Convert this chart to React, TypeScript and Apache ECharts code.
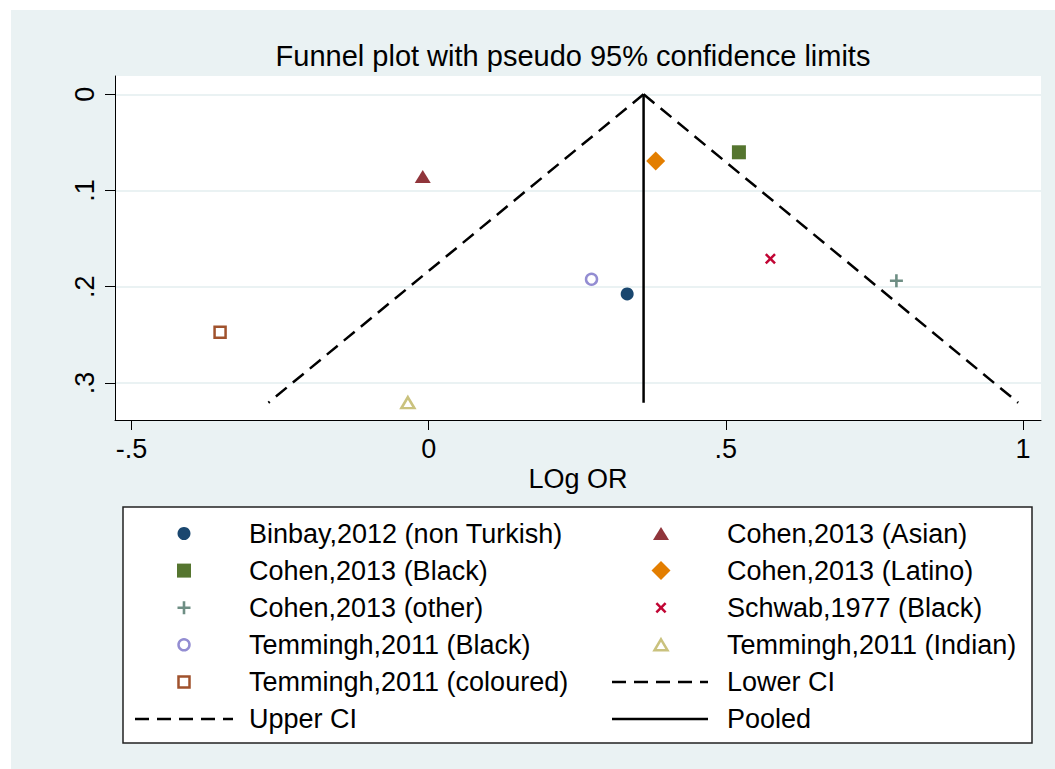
import React, { useEffect, useRef } from "react";
import * as echarts from "echarts";

// ---------- data ----------
const studies = [
  "Binbay,2012 (non Turkish)",
  "Cohen,2013 (Asian)",
  "Cohen,2013 (Black)",
  "Cohen,2013 (Latino)",
  "Cohen,2013 (other)",
  "Schwab,1977 (Black)",
  "Temmingh,2011 (Black)",
  "Temmingh,2011 (Indian)",
  "Temmingh,2011 (coloured)",
];
const logOR = [0.334, -0.01, 0.522, 0.382, 0.787, 0.575, 0.274, -0.035, -0.351];
const seLogOR = [0.2076, 0.0856, 0.0603, 0.0693, 0.1938, 0.171, 0.1923, 0.3206, 0.2474];

const lowerCI = [
  [0.3616, 0],
  [-0.2697, 0.3206],
];
const upperCI = [
  [0.3616, 0],
  [0.9919, 0.3206],
];
const pooledLine = [
  [0.3616, 0],
  [0.3616, 0.3206],
];
const lineNames = ["Lower CI", "Upper CI", "Pooled"];

const xTicks = [-0.5, 0, 0.5, 1];
const yTicks = [0, 0.1, 0.2, 0.3];

const chartTitle = "Funnel plot with pseudo 95% confidence limits";
const xTitle = "LOg OR";

// ---------- styles ----------
const FONT = "Liberation Sans, Arial, Helvetica, sans-serif";
const BG = "#eaf2f3";
const markerStyles = [
  { kind: "circle", color: "#1a476f", hollow: false },
  { kind: "triangle", color: "#90353b", hollow: false },
  { kind: "square", color: "#55752f", hollow: false },
  { kind: "diamond", color: "#e37e00", hollow: false },
  { kind: "plus", color: "#6e8e84", hollow: false },
  { kind: "cross", color: "#c10534", hollow: false },
  { kind: "circle", color: "#938dd2", hollow: true },
  { kind: "triangle", color: "#cac27e", hollow: true },
  { kind: "square", color: "#a0522d", hollow: true },
];

const PLUS_PATH = "path://M4,0 H6 V4 H10 V6 H6 V10 H4 V6 H0 V4 H4 Z";
const CROSS_PATH =
  "path://M0,1.6 L1.6,0 L5,3.4 L8.4,0 L10,1.6 L6.6,5 L10,8.4 L8.4,10 L5,6.6 L1.6,10 L0,8.4 L3.4,5 Z";

function seriesSymbol(kind: string, hollow: boolean) {
  switch (kind) {
    case "circle":
      return { symbol: "circle", symbolSize: hollow ? 11 : 13 };
    case "triangle":
      return { symbol: "triangle", symbolSize: hollow ? [13, 11] : [16, 13] };
    case "square":
      return { symbol: "rect", symbolSize: hollow ? 11 : 14 };
    case "diamond":
      return { symbol: "diamond", symbolSize: 19 };
    case "plus":
      return { symbol: PLUS_PATH, symbolSize: 13 };
    case "cross":
      return { symbol: CROSS_PATH, symbolSize: 11 };
  }
  return { symbol: "circle", symbolSize: 10 };
}

function poly(points: number[][], cx: number, cy: number, s: number) {
  return points.map((p) => [cx + (p[0] - 5) * s, cy + (p[1] - 5) * s]);
}
const PLUS_PTS = [[4,0],[6,0],[6,4],[10,4],[10,6],[6,6],[6,10],[4,10],[4,6],[0,6],[0,4],[4,4]];
const CROSS_PTS = [[0,1.6],[1.6,0],[5,3.4],[8.4,0],[10,1.6],[6.6,5],[10,8.4],[8.4,10],[5,6.6],[1.6,10],[0,8.4],[3.4,5]];

function legendSymbol(kind: string, color: string, hollow: boolean, cx: number, cy: number) {
  const style = hollow
    ? { fill: "#fff", stroke: color, lineWidth: 2.5 }
    : { fill: color };
  switch (kind) {
    case "circle":
      return { type: "circle", shape: { cx, cy, r: hollow ? 5.5 : 6.5 }, style };
    case "triangle": {
      const w = hollow ? 13 : 16;
      const h = hollow ? 11 : 13;
      return {
        type: "polygon",
        shape: { points: [[cx, cy - h / 2], [cx + w / 2, cy + h / 2], [cx - w / 2, cy + h / 2]] },
        style,
      };
    }
    case "square": {
      const s = hollow ? 11 : 14;
      return { type: "rect", shape: { x: cx - s / 2, y: cy - s / 2, width: s, height: s }, style };
    }
    case "diamond":
      return {
        type: "polygon",
        shape: { points: [[cx, cy - 9.5], [cx + 9.5, cy], [cx, cy + 9.5], [cx - 9.5, cy]] },
        style,
      };
    case "plus":
      return { type: "polygon", shape: { points: poly(PLUS_PTS, cx, cy, 1.3) }, style };
    case "cross":
      return { type: "polygon", shape: { points: poly(CROSS_PTS, cx, cy, 1.1) }, style };
  }
  return { type: "circle", shape: { cx, cy, r: 5 }, style };
}

function fmtTick(v: number) {
  if (v === 0) return "0";
  return String(v).replace("0.", ".");
}

export default function App() {
  const ref = useRef<HTMLDivElement>(null);

  useEffect(() => {
    document.body.style.margin = "0";
    if (!ref.current) return;
    const chart = echarts.init(ref.current, undefined, { renderer: "svg" });

    const scatterSeries = studies.map((name, i) => {
      const m = markerStyles[i];
      return {
        type: "scatter",
        name,
        data: [[logOR[i], seLogOR[i]]],
        ...seriesSymbol(m.kind, m.hollow),
        itemStyle: m.hollow
          ? { color: "#fff", borderColor: m.color, borderWidth: 2.5, opacity: 1 }
          : { color: m.color, borderWidth: 0, opacity: 1 },
        z: 5,
      };
    });

    const lineData = [lowerCI, upperCI, pooledLine];
    const lineSeries = lineNames.map((name, i) => ({
      type: "line",
      name,
      data: lineData[i],
      symbol: "none",
      lineStyle: {
        color: "#000",
        width: 2.5,
        opacity: 1,
        type: i < 2 ? [14, 8] : "solid",
      },
      z: 3,
    }));

    // legend graphics
    const colX = [184, 661];
    const textX = [249, 727];
    const lineX = [
      [135, 233],
      [612, 708],
    ];
    const row0 = 533.5;
    const rowH = 37.1;
    const legendEls: any[] = [];
    const allNames = [...studies, ...lineNames];
    allNames.forEach((name, idx) => {
      const row = Math.floor(idx / 2);
      const col = idx % 2;
      const cy = row0 + row * rowH;
      if (idx < studies.length) {
        const m = markerStyles[idx];
        legendEls.push(legendSymbol(m.kind, m.color, m.hollow, colX[col], cy));
      } else {
        const li = idx - studies.length;
        legendEls.push({
          type: "line",
          shape: { x1: lineX[col][0], y1: cy, x2: lineX[col][1], y2: cy },
          style: {
            stroke: "#000",
            lineWidth: 2.5,
            lineDash: li < 2 ? [14, 8] : null,
          },
        });
      }
      legendEls.push({
        type: "text",
        x: textX[col],
        y: cy,
        style: {
          text: name,
          fill: "#000",
          font: `27px ${FONT}`,
          verticalAlign: "middle",
          align: "left",
        },
      });
    });

    chart.setOption({
      animation: false,
      backgroundColor: "#fff",
      title: {
        text: chartTitle,
        left: 573,
        top: 41,
        padding: 0,
        textAlign: "center",
        textStyle: { fontFamily: FONT, fontSize: 29, fontWeight: "normal", color: "#000" },
      },
      grid: {
        left: 115,
        right: 14,
        top: 76,
        bottom: 349,
        containLabel: false,
        show: true,
        backgroundColor: "#fff",
        borderWidth: 0,
      },
      xAxis: {
        type: "value",
        min: -0.5278,
        max: 1.0303,
        name: xTitle,
        nameLocation: "middle",
        nameGap: 45,
        nameTextStyle: { fontFamily: FONT, fontSize: 27, color: "#000" },
        axisLine: { onZero: false, lineStyle: { color: "#000", width: 1 } },
        axisTick: { show: true, length: 10, customValues: xTicks, lineStyle: { color: "#000" } },
        axisLabel: {
          customValues: xTicks,
          formatter: fmtTick,
          fontFamily: FONT,
          fontSize: 27,
          color: "#000",
          margin: 15,
        },
        splitLine: { show: false },
      },
      yAxis: {
        type: "value",
        inverse: true,
        min: -0.019,
        max: 0.3386,
        axisLine: { show: true, onZero: false, lineStyle: { color: "#000", width: 1 } },
        axisTick: { show: true, length: 10, customValues: yTicks, lineStyle: { color: "#000" } },
        axisLabel: {
          customValues: yTicks,
          formatter: fmtTick,
          rotate: 90,
          fontFamily: FONT,
          fontSize: 27,
          color: "#000",
          margin: 17,
        },
        splitLine: { show: true, lineStyle: { color: BG, width: 2 } },
      },
      graphic: [
        {
          type: "rect",
          z: -10,
          silent: true,
          shape: { x: 11, y: 10, width: 1044, height: 759 },
          style: { fill: BG },
        },
        {
          type: "rect",
          z: 10,
          shape: { x: 123, y: 507, width: 909, height: 236 },
          style: { fill: "#fff", stroke: "#222", lineWidth: 1.5 },
        },
        ...legendEls.map((e) => ({ ...e, z: 11 })),
      ],
      series: [...lineSeries, ...scatterSeries],
    });

    return () => chart.dispose();
  }, []);

  return <div ref={ref} style={{ width: 1055, height: 769 }} />;
}
